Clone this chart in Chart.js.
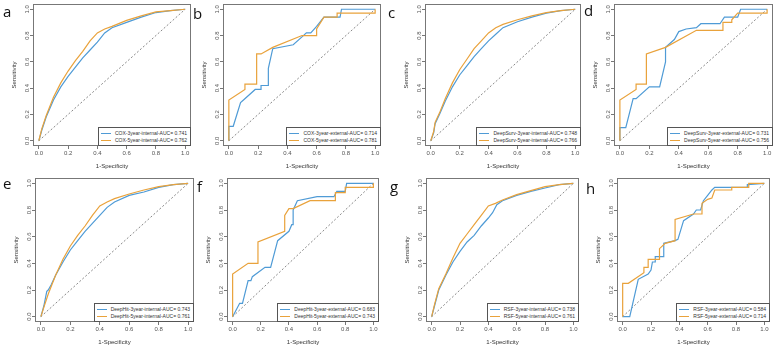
<!DOCTYPE html>
<html lang="en">
<head>
<meta charset="UTF-8">
<title>ROC curves</title>
<script src="https://cdn.jsdelivr.net/npm/chart.js"></script>
<style>
  body { margin: 0; background: #fff; }
  #fig { position: relative; width: 779px; height: 348px; overflow: hidden; font-family: "Liberation Sans", Arial, sans-serif; }
  .panel { position: absolute; }
  .tag { position: absolute; font-family: "Open Sans", "Liberation Sans", sans-serif; font-size: 15px; color: #111; line-height: 1; }
  .legend { position: absolute; border: 1px solid #555; background: #fff; padding: 2px 3px 2px 2px; font-size: 5px; color: #333; line-height: 6.5px; white-space: nowrap; }
  .legend .ln { display: inline-block; width: 10px; height: 0; border-top: 1.3px solid; vertical-align: middle; margin-right: 4px; }
</style>
</head>
<body>
<div id="fig"></div>
<script>
// panel letters and legend texts
const panelTags = ['a', 'b', 'c', 'd', 'e', 'f', 'g', 'h'];
const legendLabels = [
  ['COX-3year-internal-AUC= 0.741', 'COX-5year-internal-AUC= 0.762'],
  ['COX-3year-external-AUC= 0.714', 'COX-5year-external-AUC= 0.781'],
  ['DeepSurv-3year-internal-AUC= 0.748', 'DeepSurv-5year-internal-AUC= 0.766'],
  ['DeepSurv-3year-external-AUC= 0.731', 'DeepSurv-5year-external-AUC= 0.756'],
  ['DeepHit-3year-internal-AUC= 0.743', 'DeepHit-5year-internal-AUC= 0.761'],
  ['DeepHit-3year-external-AUC= 0.683', 'DeepHit-5year-external-AUC= 0.743'],
  ['RSF-3year-internal-AUC= 0.738', 'RSF-5year-internal-AUC= 0.761'],
  ['RSF-3year-external-AUC= 0.584', 'RSF-5year-external-AUC= 0.714']
];
const axisTicks = [0, 0.2, 0.4, 0.6, 0.8, 1.0];
const diagonal = [[0, 0], [1, 1]];

// ROC points [1-specificity, sensitivity]
const coxInt3 = [[0,0],[0.02,0.08],[0.05,0.18],[0.1,0.31],[0.15,0.41],[0.2,0.49],[0.25,0.56],[0.3,0.63],[0.35,0.69],[0.4,0.75],[0.45,0.82],[0.5,0.86],[0.6,0.9],[0.7,0.94],[0.8,0.975],[0.9,0.99],[1,1]];
const coxInt5 = [[0,0],[0.02,0.09],[0.05,0.19],[0.1,0.33],[0.15,0.44],[0.2,0.53],[0.25,0.61],[0.3,0.68],[0.35,0.76],[0.4,0.82],[0.45,0.85],[0.5,0.87],[0.6,0.915],[0.7,0.95],[0.8,0.98],[0.9,0.99],[1,1]];
const coxExt3 = [[0,0],[0,0.11],[0.03,0.11],[0.08,0.29],[0.1,0.31],[0.18,0.39],[0.22,0.39],[0.22,0.42],[0.27,0.42],[0.27,0.55],[0.3,0.7],[0.44,0.73],[0.5,0.79],[0.53,0.82],[0.56,0.82],[0.6,0.87],[0.65,0.94],[0.76,0.94],[0.77,1],[1,1]];
const coxExt5 = [[0,0],[0,0.31],[0.11,0.39],[0.11,0.43],[0.19,0.43],[0.19,0.66],[0.22,0.66],[0.3,0.71],[0.5,0.8],[0.6,0.8],[0.6,0.85],[0.65,0.94],[0.74,0.94],[0.74,0.97],[1,0.97],[1,1]];
const dsInt3 = [[0,0],[0.02,0.06],[0.03,0.13],[0.06,0.2],[0.1,0.3],[0.15,0.41],[0.2,0.5],[0.25,0.57],[0.3,0.64],[0.35,0.7],[0.4,0.76],[0.45,0.81],[0.5,0.86],[0.6,0.905],[0.7,0.94],[0.8,0.97],[0.9,0.99],[1,1]];
const dsInt5 = [[0,0],[0.02,0.07],[0.03,0.14],[0.06,0.21],[0.1,0.32],[0.15,0.44],[0.2,0.54],[0.25,0.62],[0.3,0.7],[0.35,0.76],[0.4,0.82],[0.45,0.86],[0.5,0.885],[0.6,0.92],[0.7,0.95],[0.8,0.975],[0.9,0.99],[1,1]];
const dsExt3 = [[0,0],[0,0.1],[0.04,0.1],[0.09,0.32],[0.11,0.32],[0.2,0.41],[0.27,0.41],[0.31,0.6],[0.31,0.71],[0.37,0.77],[0.4,0.83],[0.45,0.85],[0.52,0.86],[0.55,0.89],[0.68,0.89],[0.71,0.94],[0.8,0.94],[0.82,1],[1,1]];
const dsExt5 = [[0,0],[0,0.31],[0.11,0.39],[0.11,0.43],[0.18,0.43],[0.18,0.66],[0.31,0.71],[0.52,0.84],[0.7,0.84],[0.7,0.9],[0.76,0.9],[0.76,0.92],[0.8,0.97],[1,0.97],[1,1]];
const dhInt3 = [[0,0],[0.02,0.08],[0.04,0.19],[0.05,0.2],[0.07,0.24],[0.1,0.31],[0.15,0.41],[0.2,0.5],[0.25,0.57],[0.3,0.64],[0.35,0.7],[0.4,0.76],[0.45,0.82],[0.5,0.86],[0.6,0.91],[0.7,0.935],[0.8,0.97],[0.9,0.99],[1,1]];
const dhInt5 = [[0,0],[0.02,0.07],[0.05,0.17],[0.1,0.31],[0.15,0.43],[0.2,0.53],[0.25,0.61],[0.3,0.68],[0.35,0.76],[0.4,0.83],[0.45,0.86],[0.5,0.885],[0.6,0.92],[0.7,0.95],[0.8,0.975],[0.9,0.99],[1,1]];
const dhExt3 = [[0,0],[0.05,0.1],[0.07,0.1],[0.11,0.27],[0.13,0.27],[0.14,0.3],[0.23,0.37],[0.27,0.37],[0.32,0.57],[0.4,0.64],[0.42,0.69],[0.43,0.69],[0.43,0.8],[0.46,0.87],[0.6,0.9],[0.72,0.9],[0.74,0.94],[0.8,0.94],[0.81,1],[1,1]];
const dhExt5 = [[0,0],[0,0.32],[0.11,0.4],[0.18,0.4],[0.18,0.56],[0.37,0.64],[0.37,0.76],[0.4,0.81],[0.43,0.81],[0.55,0.87],[0.73,0.87],[0.73,0.93],[0.8,0.93],[0.8,0.97],[1,0.97],[1,1]];
const rsfInt3 = [[0,0],[0.02,0.08],[0.05,0.2],[0.1,0.31],[0.15,0.41],[0.2,0.49],[0.25,0.56],[0.3,0.61],[0.35,0.68],[0.4,0.74],[0.43,0.78],[0.46,0.84],[0.5,0.87],[0.6,0.91],[0.7,0.94],[0.8,0.965],[0.9,0.99],[1,1]];
const rsfInt5 = [[0,0],[0.02,0.09],[0.05,0.21],[0.1,0.32],[0.15,0.44],[0.2,0.55],[0.25,0.62],[0.3,0.69],[0.35,0.76],[0.4,0.83],[0.45,0.85],[0.5,0.875],[0.6,0.915],[0.7,0.945],[0.8,0.975],[0.9,0.99],[1,1]];
const rsfExt3 = [[0,0],[0.05,0],[0.11,0.28],[0.18,0.32],[0.2,0.35],[0.21,0.41],[0.23,0.41],[0.23,0.45],[0.29,0.45],[0.29,0.55],[0.37,0.57],[0.39,0.58],[0.43,0.72],[0.5,0.77],[0.52,0.8],[0.55,0.8],[0.57,0.87],[0.6,0.91],[0.63,0.95],[0.65,0.97],[0.88,0.97],[0.88,0.99],[1,1]];
const rsfExt5 = [[0,0],[0,0.25],[0.04,0.25],[0.15,0.33],[0.15,0.37],[0.18,0.37],[0.18,0.43],[0.26,0.43],[0.26,0.51],[0.3,0.55],[0.37,0.57],[0.37,0.73],[0.5,0.77],[0.56,0.77],[0.56,0.85],[0.6,0.88],[0.63,0.89],[0.65,0.95],[0.77,0.95],[0.77,0.97],[0.89,0.97],[0.89,1],[1,1]];

const curves3 = [coxInt3, coxExt3, dsInt3, dsExt3, dhInt3, dhExt3, rsfInt3, rsfExt3];
const curves5 = [coxInt5, coxExt5, dsInt5, dsExt5, dhInt5, dhExt5, rsfInt5, rsfExt5];

const blue = '#4f9bd6';
const orange = '#e9a23b';

// plot box of each panel in page pixels: left, top, right, bottom
const boxes = [
  [33, 4, 191, 146], [223, 4, 381, 146], [425, 4, 581, 146], [614, 4, 773, 146],
  [35, 178, 194, 322], [227, 178, 379, 322], [426, 178, 579, 322], [617, 178, 770, 322]
];
const tagPos = [[3, 4], [193, 6], [388, 5], [584, 3], [3, 176], [197, 179], [390, 179], [586, 181]];

const AXW = 26, AXH = 26, PADT = 6, PADR = 6;

const boxPlugin = {
  id: 'box',
  afterDraw(chart) {
    const a = chart.chartArea, ctx = chart.ctx;
    ctx.save();
    ctx.strokeStyle = '#777';
    ctx.lineWidth = 1;
    ctx.strokeRect(Math.round(a.left) + 0.5, Math.round(a.top) + 0.5, Math.round(a.right - a.left) - 1, Math.round(a.bottom - a.top) - 1);
    ctx.restore();
  }
};

const fig = document.getElementById('fig');
const pts = arr => arr.map(p => ({ x: p[0], y: p[1] }));

panelTags.forEach((tag, i) => {
  const [l, t, r, b] = boxes[i];
  const div = document.createElement('div');
  div.className = 'panel';
  div.style.left = (l - AXW) + 'px';
  div.style.top = (t - PADT) + 'px';
  div.style.width = (r - l + AXW + PADR) + 'px';
  div.style.height = (b - t + PADT + AXH) + 'px';
  const canvas = document.createElement('canvas');
  div.appendChild(canvas);
  fig.appendChild(div);

  const tickFont = { family: '"Liberation Sans", Arial, sans-serif', size: 6 };
  const chart = new Chart(canvas, {
    type: 'line',
    data: {
      datasets: [
        { data: pts(curves5[i]), borderColor: orange, borderWidth: 1.2 },
        { data: pts(curves3[i]), borderColor: blue, borderWidth: 1.2 },
        { data: pts(diagonal), borderColor: '#555', borderWidth: 0.7, borderDash: [2, 2] }
      ]
    },
    options: {
      responsive: true,
      maintainAspectRatio: false,
      animation: false,
      devicePixelRatio: 1,
      layout: { padding: { left: 0, top: PADT, right: PADR, bottom: 0 } },
      elements: { point: { radius: 0 }, line: { tension: 0, fill: false } },
      plugins: { legend: { display: false }, tooltip: { enabled: false } },
      scales: {
        x: {
          type: 'linear', min: -0.04, max: 1.04,
          afterBuildTicks: s => { s.ticks = axisTicks.map(v => ({ value: v })); },
          afterFit: s => { s.height = AXH; },
          grid: { drawOnChartArea: false, drawTicks: true, tickLength: 3, color: '#777' },
          border: { display: false },
          ticks: { font: tickFont, color: '#555', padding: 1, maxRotation: 0, callback: v => v.toFixed(1) },
          title: { display: true, text: '1-Specificity', font: tickFont, color: '#333', padding: { top: 0, bottom: 2 } }
        },
        y: {
          type: 'linear', min: -0.04, max: 1.04,
          afterBuildTicks: s => { s.ticks = axisTicks.map(v => ({ value: v })); },
          afterFit: s => { s.width = AXW; },
          grid: { drawOnChartArea: false, drawTicks: true, tickLength: 3, color: '#777' },
          border: { display: false },
          ticks: { font: tickFont, color: '#555', padding: -2, minRotation: 90, maxRotation: 90, crossAlign: 'center', callback: v => v.toFixed(1) },
          title: { display: true, text: 'Sensitivity', font: tickFont, color: '#333', padding: { top: 4, bottom: 0 } }
        }
      }
    },
    plugins: [boxPlugin]
  });

  // legend box at the bottom right corner of the plot box
  const lg = document.createElement('div');
  lg.className = 'legend';
  [blue, orange].forEach((c, k) => {
    const row = document.createElement('div');
    const ln = document.createElement('span');
    ln.className = 'ln';
    ln.style.borderColor = c;
    row.appendChild(ln);
    row.appendChild(document.createTextNode(legendLabels[i][k]));
    lg.appendChild(row);
  });
  fig.appendChild(lg);
  const a = chart.chartArea;
  lg.style.right = (779 - (l - AXW + a.right)) + 'px';
  lg.style.bottom = (348 - (t - PADT + a.bottom)) + 'px';

  const tg = document.createElement('div');
  tg.className = 'tag';
  tg.textContent = tag;
  tg.style.left = tagPos[i][0] + 'px';
  tg.style.top = tagPos[i][1] + 'px';
  fig.appendChild(tg);
});
</script>
</body>
</html>
